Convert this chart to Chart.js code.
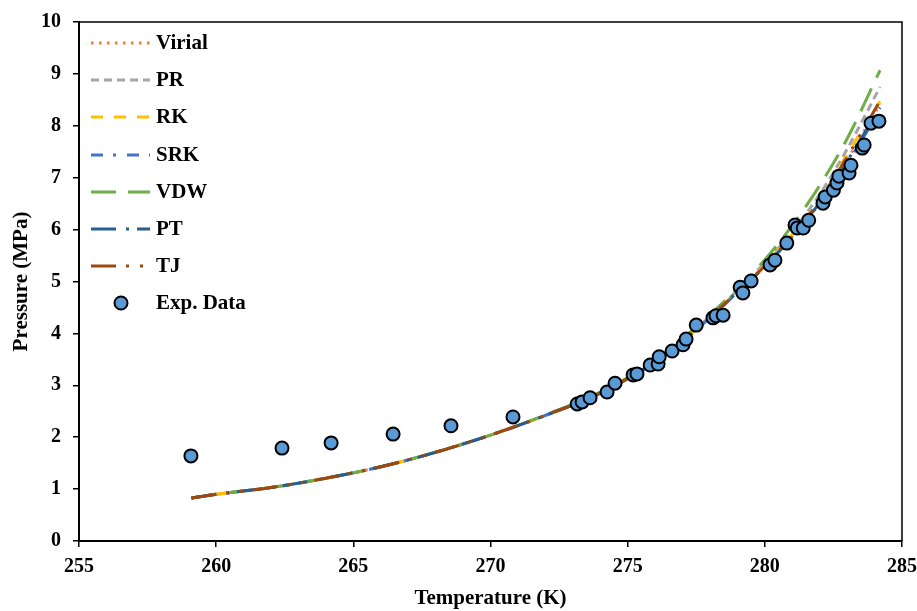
<!DOCTYPE html>
<html>
<head>
<meta charset="utf-8">
<script src="https://cdn.jsdelivr.net/npm/chart.js@4.4.1/dist/chart.umd.min.js"></script>
<style>
  html, body { margin: 0; padding: 0; background: #fff; }
  #wrap { width: 917px; height: 611px; }
</style>
</head>
<body>
<div id="wrap"><canvas id="hydrateChart" width="917" height="611"></canvas></div>
<script>
// model curves (temperature in K, pressure in MPa)
const modelT = [259.1, 260, 262, 264, 266, 268, 270, 272, 274, 276, 277, 278, 279, 280, 281, 282, 283, 284.2];
const virialP = [0.83, 0.90, 1.03, 1.21, 1.43, 1.71, 2.04, 2.42, 2.85, 3.45, 3.85, 4.30, 4.80, 5.30, 5.88, 6.54, 7.35, 8.42];
const prP     = [0.83, 0.90, 1.03, 1.21, 1.43, 1.71, 2.04, 2.42, 2.86, 3.46, 3.87, 4.33, 4.83, 5.36, 5.96, 6.68, 7.55, 8.75];
const rkP     = [0.83, 0.90, 1.03, 1.21, 1.43, 1.71, 2.04, 2.42, 2.85, 3.45, 3.86, 4.31, 4.81, 5.32, 5.91, 6.58, 7.45, 8.47];
const srkP    = [0.83, 0.90, 1.03, 1.21, 1.43, 1.71, 2.04, 2.42, 2.85, 3.45, 3.85, 4.30, 4.79, 5.29, 5.86, 6.51, 7.28, 8.30];
const vdwP    = [0.83, 0.90, 1.03, 1.21, 1.43, 1.71, 2.04, 2.43, 2.87, 3.48, 3.90, 4.36, 4.86, 5.42, 6.08, 6.85, 7.75, 9.07];
const ptP     = [0.83, 0.90, 1.03, 1.21, 1.43, 1.71, 2.04, 2.42, 2.85, 3.45, 3.85, 4.30, 4.80, 5.29, 5.87, 6.52, 7.32, 8.35];
const tjP     = [0.83, 0.90, 1.03, 1.21, 1.43, 1.71, 2.04, 2.42, 2.85, 3.45, 3.85, 4.30, 4.80, 5.30, 5.89, 6.56, 7.40, 8.48];

// experimental points
const expT = [259.08, 262.40, 264.19, 266.45, 268.56, 270.82, 273.16, 273.34, 273.63, 274.25, 274.54, 275.20, 275.34,
              275.82, 276.11, 276.15, 276.62, 277.02, 277.13, 277.50, 278.11, 278.22, 278.48, 279.10, 279.20, 279.50,
              280.19, 280.37, 280.80, 281.10, 281.18, 281.40, 281.60, 282.12, 282.20, 282.50, 282.63, 282.70, 283.07,
              283.14, 283.55, 283.62, 283.87, 284.16];
const expP = [1.64, 1.79, 1.89, 2.06, 2.22, 2.39, 2.64, 2.68, 2.76, 2.87, 3.04, 3.20, 3.22,
              3.39, 3.41, 3.55, 3.66, 3.78, 3.89, 4.16, 4.30, 4.34, 4.35, 4.89, 4.78, 5.01,
              5.32, 5.41, 5.74, 6.09, 6.03, 6.03, 6.18, 6.51, 6.63, 6.76, 6.90, 7.03, 7.09,
              7.24, 7.57, 7.63, 8.05, 8.09];

const FONT = "'Liberation Serif', 'Times New Roman', serif";

function toXY(xs, ys) {
    return xs.map((x, i) => ({ x: x, y: ys[i] }));
}

function lineSet(label, ys, color, dash, order) {
    return {
        label: label,
        data: toXY(modelT, ys),
        borderColor: color,
        backgroundColor: color,
        borderWidth: 3,
        borderDash: dash,
        pointRadius: 0,
        showLine: true,
        fill: false,
        cubicInterpolationMode: 'monotone',
        order: order
    };
}

const datasets = [
    lineSet('Virial', virialP, '#ED7D31', [2.5, 5.5], 7),
    lineSet('PR', prP, '#A5A5A5', [8, 5], 6),
    lineSet('RK', rkP, '#FFC000', [12, 11], 5),
    lineSet('SRK', srkP, '#4472C4', [12, 10, 3, 11], 4),
    lineSet('VDW', vdwP, '#70AD47', [25, 12], 3),
    lineSet('PT', ptP, '#255E91', [25, 10, 3, 8], 2),
    lineSet('TJ', tjP, '#9E480E', [25, 10, 3, 11, 3, 10], 1),
    {
        label: 'Exp. Data',
        data: toXY(expT, expP),
        showLine: false,
        pointRadius: 6.5,
        pointBackgroundColor: '#5B9BD5',
        pointBorderColor: '#000',
        pointBorderWidth: 2,
        order: 0
    }
];

// frame round the plot area + legend drawn inside it
const framePlugin = {
    id: 'frameAndLegend',
    afterDatasetsDraw(chart) {
        const ctx = chart.ctx;
        const a = chart.chartArea;
        ctx.save();
        ctx.strokeStyle = '#000';
        ctx.lineWidth = 1.5;
        ctx.beginPath();
        ctx.moveTo(a.left, a.top);
        ctx.lineTo(a.right, a.top);
        ctx.lineTo(a.right, a.bottom);
        ctx.stroke();

        const rowY = [43, 80, 117, 155, 192, 229, 266, 303];
        chart.data.datasets.forEach((ds, i) => {
            const y = rowY[i];
            if (ds.showLine) {
                ctx.strokeStyle = ds.borderColor;
                ctx.lineWidth = 3;
                ctx.setLineDash(ds.borderDash);
                ctx.beginPath();
                ctx.moveTo(91, y);
                ctx.lineTo(150, y);
                ctx.stroke();
                ctx.setLineDash([]);
            } else {
                ctx.fillStyle = ds.pointBackgroundColor;
                ctx.strokeStyle = ds.pointBorderColor;
                ctx.lineWidth = 2;
                ctx.beginPath();
                ctx.arc(121, y, 6.5, 0, Math.PI * 2);
                ctx.fill();
                ctx.stroke();
            }
            ctx.fillStyle = '#000';
            ctx.font = 'bold 21px ' + FONT;
            ctx.textBaseline = 'middle';
            ctx.textAlign = 'left';
            ctx.fillText(ds.label, 156, y + 1);
        });
        ctx.restore();
    }
};

new Chart(document.getElementById('hydrateChart').getContext('2d'), {
    type: 'scatter',
    data: { datasets: datasets },
    options: {
        responsive: false,
        animation: false,
        layout: { padding: { top: 22, right: 15, left: 0, bottom: 0 } },
        plugins: {
            legend: { display: false },
            tooltip: { enabled: false }
        },
        scales: {
            x: {
                type: 'linear',
                min: 255,
                max: 285,
                afterFit: s => { s.height = 70; s.paddingLeft = 0; s.paddingRight = 0; },
                ticks: {
                    stepSize: 5,
                    color: '#000',
                    padding: 8,
                    font: { family: FONT, size: 20, weight: 'bold' }
                },
                grid: { drawOnChartArea: false, drawTicks: true, tickLength: 6, color: '#000', lineWidth: 1.5 },
                border: { color: '#000', width: 2 },
                title: {
                    display: true,
                    text: 'Temperature (K)',
                    color: '#000',
                    padding: { top: 6, bottom: 0 },
                    font: { family: FONT, size: 21, weight: 'bold' }
                }
            },
            y: {
                min: 0,
                max: 10,
                afterFit: s => { s.width = 79; s.paddingTop = 0; s.paddingBottom = 0; },
                ticks: {
                    stepSize: 1,
                    color: '#000',
                    padding: 12,
                    font: { family: FONT, size: 20, weight: 'bold' }
                },
                grid: { drawOnChartArea: false, drawTicks: true, tickLength: 6, color: '#000', lineWidth: 1.5 },
                border: { color: '#000', width: 2 },
                title: {
                    display: true,
                    text: 'Pressure (MPa)',
                    color: '#000',
                    padding: { top: 9, bottom: 4 },
                    font: { family: FONT, size: 21, weight: 'bold' }
                }
            }
        }
    },
    plugins: [framePlugin]
});
</script>
</body>
</html>
